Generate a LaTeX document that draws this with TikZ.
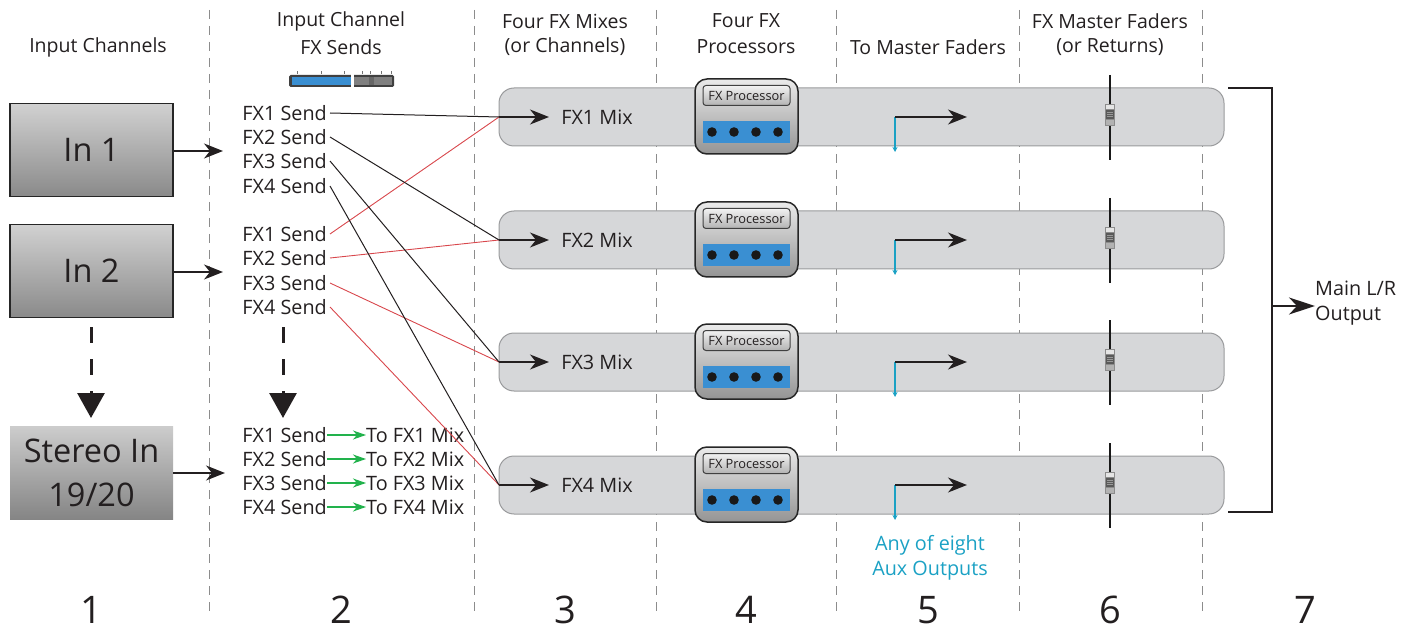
\documentclass[tikz,border=0pt]{standalone}
\usepackage{fontspec}
\setmainfont{Open Sans}
\usetikzlibrary{arrows.meta}
\definecolor{sepgray}{HTML}{8C8C8C}
\definecolor{bandfill}{HTML}{D6D7D9}
\definecolor{banddraw}{HTML}{9A9B9D}
\definecolor{fxred}{HTML}{D8474C}
\definecolor{fxgreen}{HTML}{22B24C}
\definecolor{fxcyan}{HTML}{1BA1C4}
\definecolor{fxblue}{HTML}{3A8FD2}
\definecolor{ink}{HTML}{231F20}
\tikzset{
  sepline/.style={draw=sepgray, dash pattern=on 9pt off 7pt, line width=0.8pt},
  inbox/.style={minimum width=163pt, minimum height=93pt, inner sep=0pt,
     top color=black!18, bottom color=black!46, font=\fontsize{32.5}{44}\selectfont, text=ink, align=center},
  hdr/.style={font=\fontsize{19.5}{24}\selectfont, text=ink, inner sep=0pt},
  numtxt/.style={font=\fontsize{38}{40}\selectfont, text=ink, inner sep=0pt},
  sendtxt/.style={anchor=east, inner sep=0pt, font=\fontsize{19.8}{24}\selectfont, text=ink},
  mixtxt/.style={inner sep=0pt, font=\fontsize{19.8}{24}\selectfont, text=ink},
  blk/.style={draw=ink, line width=1pt},
  redl/.style={draw=fxred, line width=0.9pt},
  bigarr/.style={-{Stealth[length=19pt,width=15pt,inset=6pt]}, line width=1.8pt, draw=ink},
  grnarr/.style={-{Stealth[length=13pt,width=9pt,inset=4pt]}, line width=1.2pt, draw=fxgreen},
  cyanarr/.style={-{Stealth[length=5pt,width=5pt,inset=1.5pt]}, line width=1.2pt, draw=fxcyan},
  downarr/.style={-{Triangle[length=25pt,width=27pt]}, line width=3pt, draw=ink, dash pattern=on 16pt off 16pt},
}
\begin{document}
\begin{tikzpicture}[x=1pt,y=-1pt]
\useasboundingbox (0,0) rectangle (1401,631);

% separators
\foreach \sx in {209,474,656,836,1019,1202}
  \draw[sepline] (\sx,10) -- (\sx,615);

% headers
\node[hdr] (h1) at (98,47) {Input Channels};
\node[hdr] (h2a) at (341,21) {Input Channel};
\node[hdr] (h2b) at (341,47) {FX Sends};
\node[hdr] (h3a) at (565,21) {Four FX Mixes};
\node[hdr] (h3b) at (565,47) {(or Channels)};
\node[hdr] (h4a) at (746,21) {Four FX};
\node[hdr] (h4b) at (746,47) {Processors};
\node[hdr] (h5) at (928,47) {To Master Faders};
\node[hdr] (h6a) at (1110,21) {FX Master Faders};
\node[hdr] (h6b) at (1110,47) {(or Returns)};

% numbers
\node[numtxt] (n1) at (91,610) {1};
\node[numtxt] (n2) at (341,610) {2};
\node[numtxt] (n3) at (565,610) {3};
\node[numtxt] (n4) at (746,610) {4};
\node[numtxt] (n5) at (928,610) {5};
\node[numtxt] (n6) at (1110,610) {6};
\node[numtxt] (n7) at (1305,610) {7};

% slider icon
\fill[black!75, rounded corners=1.5pt] (289,75) rectangle (394,87);
\fill[fxblue] (291.5,77) rectangle (352,85);
\fill[black!50] (354,77) rectangle (392,85);
\fill[black!60] (369,77) rectangle (374,85);
\fill[white] (351,72) rectangle (354,89);
\foreach \tx in {297,321,344,362,370,381,391}
  \draw[black!55, line width=0.4pt] (\tx,71) -- (\tx,74);

% bands and processors
\foreach \i/\y in {1/117,2/240,3/362,4/485}{
  \draw[fill=bandfill, draw=banddraw, line width=1pt, rounded corners=15pt] (499,\y-29) rectangle (1224,\y+29);
  \coordinate (mix\i) at (499,\y);
  \coordinate (mixa\i) at (549,\y);
  \node[mixtxt] (mixl\i) at (597,\y) {FX\i{} Mix};
  \draw[bigarr] (mix\i) -- (mixa\i);
  % processor
  \draw[top color=black!8, bottom color=black!42, draw=black!85, line width=1.5pt, rounded corners=12pt] (695,\y-38) rectangle (798,\y+37);
  \node[draw=black!75, line width=1pt, rounded corners=3pt, top color=black!5, bottom color=black!30,
        minimum width=87pt, minimum height=20pt, inner sep=0pt, font=\fontsize{12.8}{14}\selectfont, text=ink]
        (proc\i) at (746.5,\y-21.5) {FX Processor};
  \fill[fxblue] (703,\y+4) rectangle (790,\y+26);
  \foreach \dx in {712,734,756,778}
    \fill[black!90] (\dx,\y+15) circle (4.8pt);
  % to master faders
  \coordinate (tm\i) at (895,\y);
  \coordinate (tma\i) at (967,\y);
  \coordinate (aux\i) at (895,\y+35);
  \draw[cyanarr] (tm\i) -- (aux\i);
  \draw[bigarr, line width=1.5pt] (tm\i) -- (tma\i);
  % fader
  \draw[black!90, line width=1.8pt] (1110,\y-42) -- (1110,\y+43);
  \fill[black!45] (1105,\y-13) rectangle (1115,\y+9);
  \fill[black!10] (1106,\y-12) rectangle (1114,\y-8);
  \fill[black!65] (1106,\y-7) rectangle (1114,\y+2);
  \foreach \ry in {-5,-3,-1}
    \draw[black!40, line width=0.4pt] (1107,\y+\ry) -- (1113,\y+\ry);
  \fill[black!30] (1106,\y+3) rectangle (1114,\y+8);
}

% input boxes
\node[inbox, draw=black!85, line width=1.5pt] (in1) at (91.5,150) {In 1};
\node[inbox, draw=black!85, line width=1.5pt] (in2) at (91.5,271) {In 2};
\node[inbox, top color=black!20, bottom color=black!48] (in3) at (91.5,473) {Stereo In\\19/20};
\coordinate (in1a) at (223,151);
\coordinate (in2a) at (223,272);
\coordinate (in3a) at (225,473);
\draw[bigarr] (in1.east|-in1a) -- (in1a);
\draw[bigarr] (in2.east|-in2a) -- (in2a);
\draw[bigarr] (in3.east) -- (in3a);

% dashed down arrows
\coordinate (d1s) at (91,327);
\coordinate (d1e) at (91,418);
\coordinate (d2s) at (283,327);
\coordinate (d2e) at (283,418);
\draw[downarr] (d1s) -- (d1e);
\draw[downarr] (d2s) -- (d2e);

% sends
\foreach \k/\y in {1/113,2/137,3/161,4/186}
  \node[sendtxt] (a\k) at (327,\y) {FX\k{} Send};
\foreach \k/\y in {1/234,2/258,3/283,4/307}
  \node[sendtxt] (b\k) at (327,\y) {FX\k{} Send};
\foreach \k/\y in {1/435,2/459,3/483,4/507}{
  \node[sendtxt] (c\k) at (327,\y) {FX\k{} Send};
  \node[mixtxt, anchor=west] (t\k) at (366,\y) {To FX\k{} Mix};
  \draw[grnarr] (c\k.east) -- (t\k.west);
}

% connections from In 2 sends (red)
\foreach \k in {1,2,3,4}
  \draw[redl] ([xshift=3pt]b\k.east) -- (mix\k);
% connections from In 1 sends (black)
\foreach \k in {1,2,3,4}
  \draw[blk] ([xshift=3pt]a\k.east) -- (mix\k);

% bracket and main output
\coordinate (br1) at (1228,88);
\coordinate (br2) at (1272,88);
\coordinate (br3) at (1272,512);
\coordinate (br4) at (1228,512);
\draw[ink, line width=2pt] (br1) -- (br2) -- (br3) -- (br4);
\coordinate (brm) at (1272,306);
\node[mixtxt, anchor=west, align=left, font=\fontsize{19.8}{25}\selectfont] (mainout) at (1315,303) {Main L/R\\Output};
\draw[-{Stealth[length=26pt,width=17pt,inset=8pt]}, line width=1.8pt, draw=ink] (brm) -- (mainout.west|-brm);

% aux label
\node[mixtxt, text=fxcyan, align=center, font=\fontsize{19.8}{25}\selectfont] (auxl) at (930,558) {Any of eight\\Aux Outputs};
\end{tikzpicture}
\end{document}
